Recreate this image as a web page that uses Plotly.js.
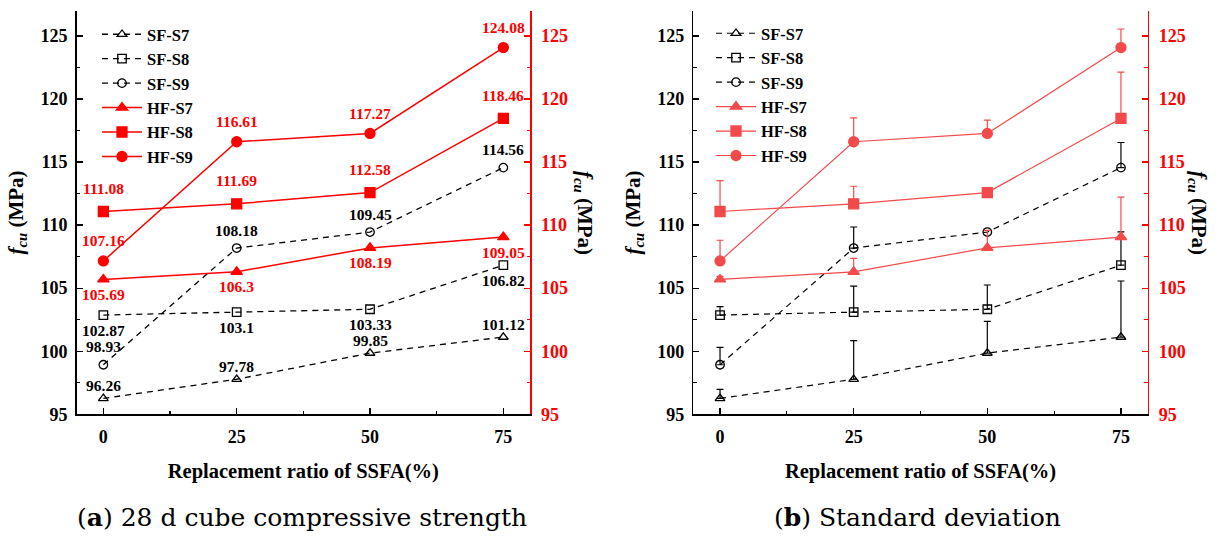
<!DOCTYPE html>
<html>
<head>
<meta charset="utf-8">
<script src="https://cdn.plot.ly/plotly-3.0.1.min.js"></script>
<style>
  html, body { margin: 0; padding: 0; background: #fff; }
  #chart { width: 1223px; height: 542px; }
</style>
</head>
<body>
<div id="chart"></div>
<script>
// replacement ratio of SSFA (%)
const ratio = [0, 25, 50, 75];

// 28 d cube compressive strength (MPa)
const sfS7 = [96.26, 97.78, 99.85, 101.12];
const sfS8 = [102.87, 103.1, 103.33, 106.82];
const sfS9 = [98.93, 108.18, 109.45, 114.56];
const hfS7 = [105.69, 106.3, 108.19, 109.05];
const hfS8 = [111.08, 111.69, 112.58, 118.46];
const hfS9 = [107.16, 116.61, 117.27, 124.08];

// standard deviation (b)
const sfS7Sd = [0.71, 3.06, 2.51, 4.45];
const sfS8Sd = [0.67, 2.07, 1.92, 2.64];
const sfS9Sd = [1.38, 1.67, NaN, 1.99];
const hfS7Sd = [0.25, 1.06, 1.4, 3.17];
const hfS8Sd = [2.45, 1.39, 0.25, 3.67];
const hfS9Sd = [1.64, 1.9, 1.05, 1.47];

const names = ['SF-S7', 'SF-S8', 'SF-S9', 'HF-S7', 'HF-S8', 'HF-S9'];
const yTicks = [95, 100, 105, 110, 115, 120, 125];

const FONT = '"Liberation Serif", "Times New Roman", serif';
const RED = '#ff0000';
const RED_B = '#f24a4a';
const W = 1223, H = 542;

const series = [
  { name: names[0], y: sfS7, sd: sfS7Sd, sym: 'triangle-up-open', hf: false, shift: 13 },
  { name: names[1], y: sfS8, sd: sfS8Sd, sym: 'square-open', hf: false, shift: -15 },
  { name: names[2], y: sfS9, sd: sfS9Sd, sym: 'circle-open', hf: false, shift: 18 },
  { name: names[3], y: hfS7, sd: hfS7Sd, sym: 'triangle-up', hf: true, shift: -15 },
  { name: names[4], y: hfS8, sd: hfS8Sd, sym: 'square', hf: true, shift: 23 },
  { name: names[5], y: hfS9, sd: hfS9Sd, sym: 'circle', hf: true, shift: 20 }
];

const traces = [];
const annotations = [];

// panel (a): values with labels; panel (b): same values with SD bars
series.forEach(s => {
  const colA = s.hf ? RED : '#000';
  const colB = s.hf ? RED_B : '#000';
  traces.push({
    x: ratio, y: s.y, type: 'scatter', mode: 'lines+markers', name: s.name,
    xaxis: 'x', yaxis: s.hf ? 'y2' : 'y', legend: 'legend', legendgroup: 'a' + s.name,
    line: { color: colA, width: s.hf ? 1.5 : 1.3, dash: s.hf ? 'solid' : '6px,5px' },
    marker: { symbol: s.sym, size: s.hf ? 10 : 8.5, color: colA, line: { color: colA, width: 1.3 } },
    cliponaxis: false, hoverinfo: 'skip'
  });
  traces.push({
    x: ratio, y: s.y, type: 'scatter', mode: 'lines+markers', name: s.name,
    xaxis: 'x2', yaxis: s.hf ? 'y4' : 'y3', legend: 'legend2', legendgroup: 'b' + s.name,
    line: { color: colB, width: 1.2, dash: s.hf ? 'solid' : '6px,5px' },
    marker: { symbol: s.sym, size: s.hf ? 10 : 8.5, color: colB, line: { color: colB, width: 1.3 } },
    error_y: {
      type: 'data', symmetric: false, array: s.sd,
      arrayminus: s.sd.map(v => isNaN(v) ? NaN : 0),
      color: colB, thickness: 1.2, width: 3.5
    },
    cliponaxis: false, hoverinfo: 'skip'
  });
  s.y.forEach((v, i) => {
    annotations.push({
      x: ratio[i], y: v, xref: 'x', yref: s.hf ? 'y2' : 'y', xanchor: 'center',
      text: String(v), showarrow: false, yshift: s.shift,
      font: { family: FONT, size: 15.5, color: colA, weight: 'bold' }
    });
  });
});

const tickFont = c => ({ family: FONT, size: 18, color: c, weight: 'bold' });
const yTitle = '<i>f</i><sub><i>cu</i></sub> (MPa)';

function xAxis(domain, anchor) {
  return {
    domain, anchor, range: [-5, 80], tick0: 0, dtick: 25,
    ticks: 'inside', ticklen: 6, tickwidth: 1.3, tickcolor: '#000',
    minor: { dtick: 12.5, tick0: 0, ticks: 'inside', ticklen: 3.5, tickwidth: 1.3, tickcolor: '#000' },
    showline: true, linecolor: '#000', linewidth: 1.5, mirror: false,
    showgrid: false, zeroline: false, fixedrange: true,
    tickfont: tickFont('#000'), ticklabelstandoff: 6,
    title: { text: 'Replacement ratio of SSFA(%)', standoff: 17,
      font: { family: FONT, size: 20.5, color: '#000', weight: 'bold' } }
  };
}
function xTop(over, anchor) {
  return {
    overlaying: over, anchor, side: 'top', range: [-5, 80], tick0: 0, dtick: 25,
    ticks: 'inside', ticklen: 6, tickwidth: 1.3, tickcolor: RED,
    minor: { dtick: 12.5, tick0: 0, ticks: 'inside', ticklen: 3.5, tickwidth: 1.3, tickcolor: RED },
    showline: true, linecolor: RED, linewidth: 1.5, showticklabels: false,
    showgrid: false, zeroline: false, fixedrange: true
  };
}
function yLeft(anchor) {
  return {
    domain: [127.7 / H, 531.3 / H], anchor, range: [95, 127], tickvals: yTicks,
    ticks: 'inside', ticklen: 6, tickwidth: 1.3, tickcolor: '#000',
    minor: { dtick: 2.5, tick0: 95, ticks: 'inside', ticklen: 3.5, tickwidth: 1.3, tickcolor: '#000' },
    showline: true, linecolor: '#000', linewidth: 1.5,
    showgrid: false, zeroline: false, fixedrange: true,
    tickfont: tickFont('#000'), ticklabelstandoff: 4,
    title: { text: yTitle, standoff: 11,
      font: { family: FONT, size: 21, color: '#000', weight: 'bold' } }
  };
}
function yRight(over, anchor) {
  return {
    overlaying: over, anchor, side: 'right', range: [95, 127], tickvals: yTicks,
    ticks: 'inside', ticklen: 6, tickwidth: 1.3, tickcolor: RED,
    minor: { dtick: 2.5, tick0: 95, ticks: 'inside', ticklen: 3.5, tickwidth: 1.3, tickcolor: RED },
    showline: true, linecolor: RED, linewidth: 1.5,
    showgrid: false, zeroline: false, fixedrange: true,
    tickfont: tickFont(RED), ticklabelstandoff: 6
  };
}

// right-hand axis titles read top to bottom
[584, 1198].forEach(px => {
  annotations.push({
    x: px / W, y: (H - 213) / H, xref: 'paper', yref: 'paper',
    xanchor: 'center', yanchor: 'middle', textangle: 90,
    text: yTitle, showarrow: false,
    font: { family: FONT, size: 21, color: '#000', weight: 'bold' }
  });
});

// panel captions
const captions = [
  ['(<b>a</b>) 28 d cube compressive strength', 302],
  ['(<b>b</b>) Standard deviation', 917]
];
captions.forEach(([t, cx]) => {
  annotations.push({
    x: cx / W, y: (H - 517) / H, xref: 'paper', yref: 'paper',
    xanchor: 'center', yanchor: 'middle',
    text: t, showarrow: false,
    font: { family: '"DejaVu Serif", serif', size: 25, color: '#000' }
  });
});

const legendBase = {
  yanchor: 'top', xanchor: 'left', bgcolor: 'rgba(0,0,0,0)', borderwidth: 0,
  font: { family: FONT, size: 16.5, color: '#000', weight: 'bold' },
  traceorder: 'grouped', tracegroupgap: 0, itemwidth: 40
};

const layout = {
  width: W, height: H,
  margin: { l: 0, r: 0, t: 0, b: 0 },
  paper_bgcolor: '#fff', plot_bgcolor: 'rgba(0,0,0,0)',
  showlegend: true,
  legend: Object.assign({ x: 97 / W, y: (H - 17) / H }, legendBase),
  legend2: Object.assign({ x: 711 / W, y: (H - 16) / H }, legendBase),
  xaxis: xAxis([76.7 / W, 530 / W], 'y'),
  xaxis3: xTop('x', 'y'),
  yaxis: yLeft('x'),
  yaxis2: yRight('y', 'x'),
  xaxis2: xAxis([693.3 / W, 1147.7 / W], 'y3'),
  xaxis4: xTop('x2', 'y3'),
  yaxis3: yLeft('x2'),
  yaxis4: yRight('y3', 'x2'),
  annotations
};

Plotly.newPlot('chart', traces, layout, { displayModeBar: false, staticPlot: true });
</script>
</body>
</html>
